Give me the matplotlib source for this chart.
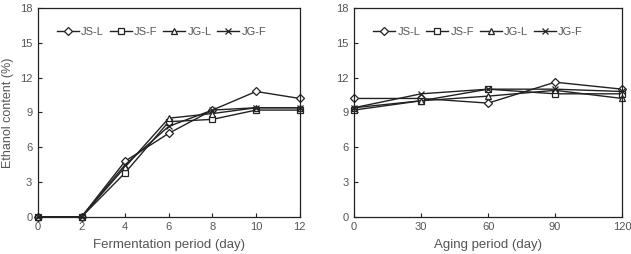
import matplotlib
matplotlib.use("Agg")
import matplotlib.pyplot as plt

plt.rcParams['font.family'] = ['Liberation Sans', 'DejaVu Sans']

series = ["JS-L", "JS-F", "JG-L", "JG-F"]
markers = ["D", "s", "^", "x"]

ferm_days = [0, 2, 4, 6, 8, 10, 12]
ferm_js_l = [0, 0, 4.8, 7.2, 9.2, 10.8, 10.2]
ferm_js_f = [0, 0, 3.8, 8.2, 8.4, 9.2, 9.2]
ferm_jg_l = [0, 0, 4.3, 8.5, 8.9, 9.4, 9.4]
ferm_jg_f = [0, 0, 4.5, 7.8, 9.2, 9.4, 9.4]

aging_days = [0, 30, 60, 90, 120]
aging_js_l = [10.2, 10.2, 9.8, 11.6, 11.0]
aging_js_f = [9.2, 10.0, 11.0, 10.6, 10.6]
aging_jg_l = [9.4, 10.0, 10.4, 10.9, 10.2]
aging_jg_f = [9.4, 10.6, 11.0, 11.0, 10.8]

yticks = [0, 3, 6, 9, 12, 15, 18]
grey = "#555555"

fig = plt.figure(figsize=(6.31, 2.54), dpi=100)
ax1 = fig.add_axes([0.060, 0.146, 0.415, 0.823])
ax2 = fig.add_axes([0.561, 0.146, 0.425, 0.823])

panels = [
    (ax1, ferm_days, [ferm_js_l, ferm_js_f, ferm_jg_l, ferm_jg_f], "Fermentation period (day)", (0, 12)),
    (ax2, aging_days, [aging_js_l, aging_js_f, aging_jg_l, aging_jg_f], "Aging period (day)", (0, 120)),
]

for ax, x, ys, xlabel, xlim in panels:
    for name, m, y in zip(series, markers, ys):
        ms = 3.8 if m == "D" else 4.8
        ax.plot(x, y, color="#222222", lw=1.0, marker=m, ms=ms,
                mfc="white", mec="#222222", mew=0.9, label=name, clip_on=False)
    ax.set_xlim(*xlim)
    ax.set_ylim(0, 18)
    ax.set_xticks(x)
    ax.set_yticks(yticks)
    ax.tick_params(direction="in", length=3, width=0.8, labelsize=8, colors="#222222",
                   labelcolor=grey, pad=4)
    for s in ax.spines.values():
        s.set_linewidth(0.9)
        s.set_color("#222222")
    ax.set_xlabel(xlabel, fontsize=9.5, color=grey, labelpad=5)
    leg = ax.legend(loc="upper left", bbox_to_anchor=(0.055, 0.93), ncol=4, frameon=False,
                    fontsize=8, handlelength=2.0, handletextpad=0.2, columnspacing=0.5,
                    borderaxespad=0)
    for t in leg.get_texts():
        t.set_color(grey)

ax1.set_ylabel("Ethanol content (%)", fontsize=9, color=grey, labelpad=4)

fig.savefig("out.png", dpi=100)
